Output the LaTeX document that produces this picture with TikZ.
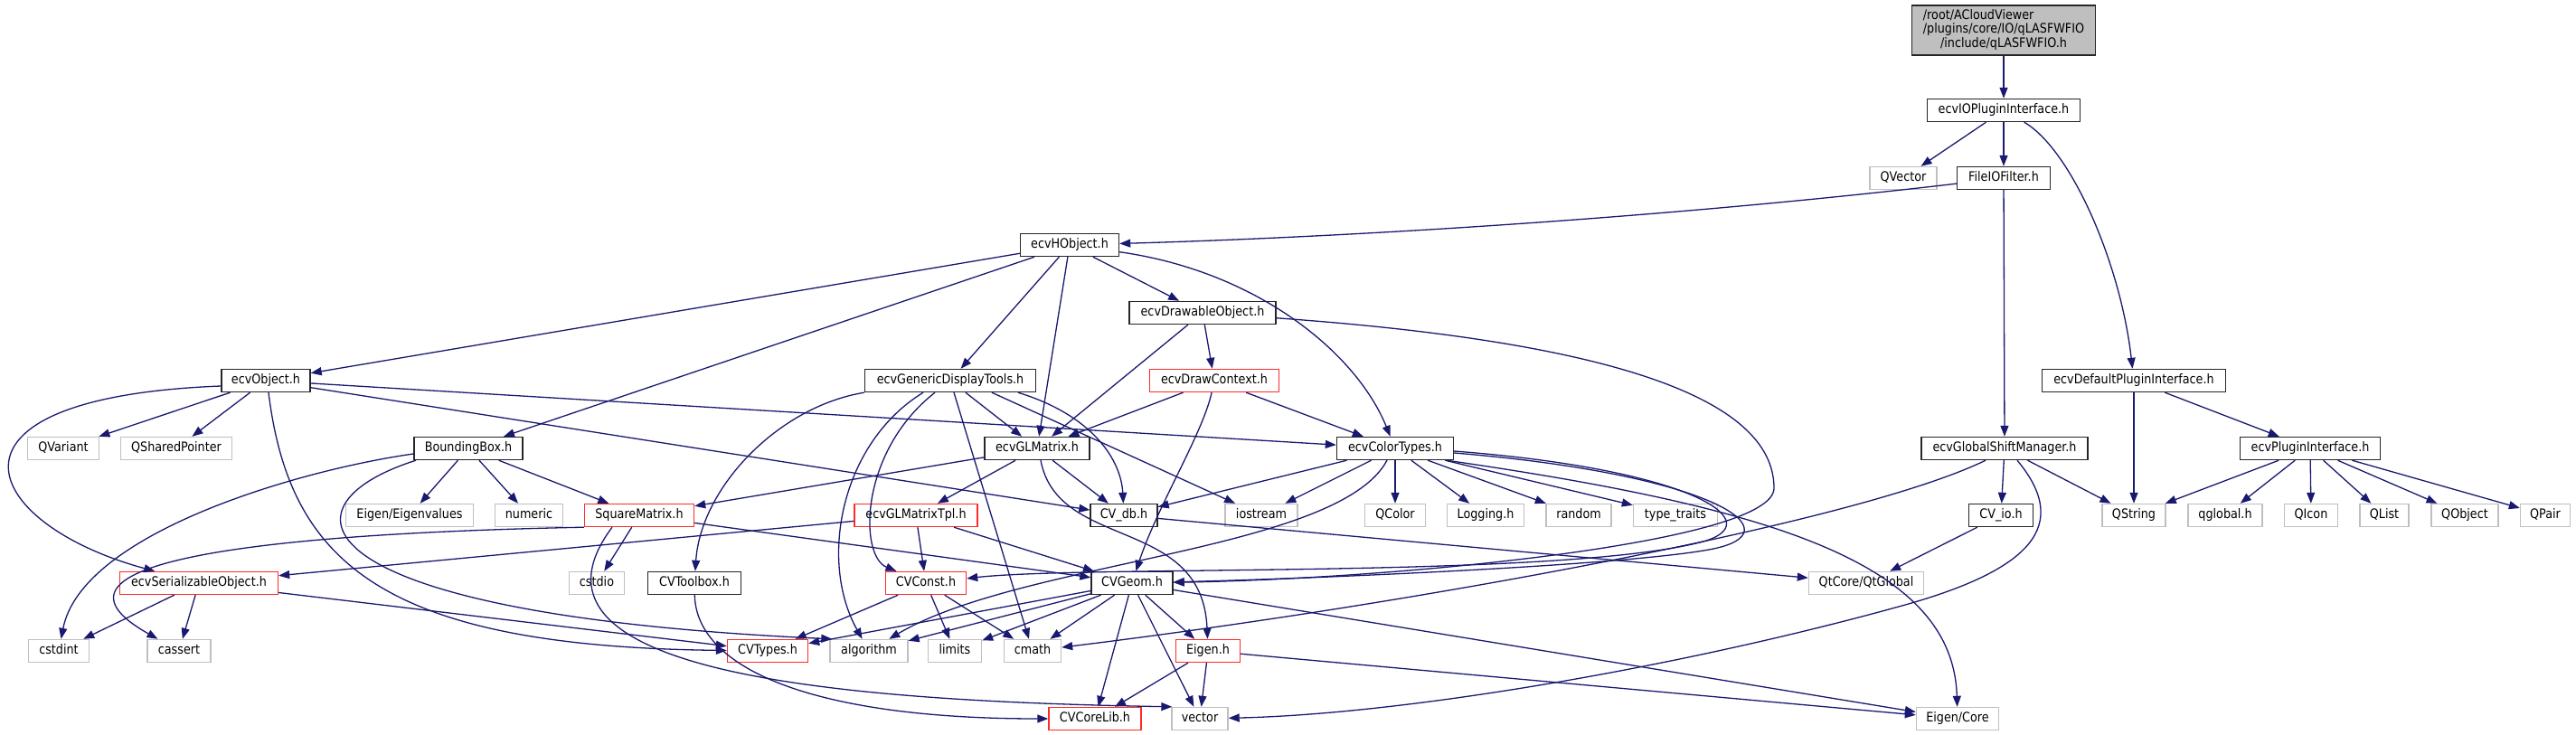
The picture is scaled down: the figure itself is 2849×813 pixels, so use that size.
\documentclass[tikz,border=0pt]{standalone}
\usepackage{fontspec}
\setmainfont{DejaVu Sans}[FakeStretch=0.88]
\usetikzlibrary{arrows.meta}
\definecolor{edgecol}{HTML}{191970}
\definecolor{redb}{HTML}{FF2A2A}
\definecolor{grayb}{HTML}{BFBFBF}
\definecolor{mainfill}{HTML}{BFBFBF}
\begin{document}
\begin{tikzpicture}[x=1pt,y=-1pt,
  nd/.style={rectangle, inner sep=0pt, minimum height=25pt, font=\fontsize{14.5}{16}\selectfont, text height=10.5pt, text depth=3pt, fill=white, line width=1.4pt},
  blk/.style={nd, draw=black!85},
  rd/.style={nd, draw=redb},
  gry/.style={nd, draw=grayb},
  mainbox/.style={rectangle, inner sep=0pt, minimum height=55pt, minimum width=203pt, font=\fontsize{14.5}{15}\selectfont, fill=mainfill, draw=black!85, line width=1.4pt},
  e/.style={draw=edgecol, line width=1.3pt, -{Triangle[length=12pt,width=9pt]}}]
\useasboundingbox (0,0) rectangle (2849,813);

% nodes
\node[mainbox] (main) at (2216,33.5) {\begin{tabular}{@{}l@{}}/root/ACloudViewer\\/plugins/core/IO/qLASFWFIO\\\multicolumn{1}{@{}c@{}}{/include/qLASFWFIO.h}\end{tabular}};
\node[blk, minimum width=169pt] (ioplug) at (2216,122) {ecvIOPluginInterface.h};
\node[gry, minimum width=74pt] (qvector) at (2105,197) {QVector};
\node[blk, minimum width=103pt] (fileio) at (2216,197) {FileIOFilter.h};
\node[blk, minimum width=109pt] (hobject) at (1183,271) {ecvHObject.h};
\node[blk, minimum width=162pt] (drawable) at (1330,346) {ecvDrawableObject.h};
\node[blk, minimum width=189pt] (gendisp) at (1051,421) {ecvGenericDisplayTools.h};
\node[rd, minimum width=143pt] (drawctx) at (1343,421) {ecvDrawContext.h};
\node[blk, minimum width=116pt] (glmatrix) at (1147,496) {ecvGLMatrix.h};
\node[blk, minimum width=129pt] (colortypes) at (1543,496) {ecvColorTypes.h};
\node[blk, minimum width=98pt] (object) at (294,421) {ecvObject.h};
\node[gry, minimum width=79pt] (qvariant) at (70,496) {QVariant};
\node[gry, minimum width=123pt] (qsharedptr) at (195,496) {QSharedPointer};
\node[blk, minimum width=120pt] (bbox) at (518,496) {BoundingBox.h};
\node[gry, minimum width=141pt] (eigenvalues) at (453,570) {Eigen/Eigenvalues};
\node[gry, minimum width=75pt] (numeric) at (585,570) {numeric};
\node[rd, minimum width=121pt] (squarematrix) at (707,570) {SquareMatrix.h};
\node[rd, minimum width=175pt] (serializable) at (220,645) {ecvSerializableObject.h};
\node[gry, minimum width=61pt] (cstdio) at (660,645) {cstdio};
\node[gry, minimum width=67pt] (cstdint) at (65,720) {cstdint};
\node[gry, minimum width=70pt] (cassert) at (198,720) {cassert};
\node[rd, minimum width=136pt] (glmatrixtpl) at (1013,570) {ecvGLMatrixTpl.h};
\node[blk, minimum width=74pt] (cvdb) at (1243,570) {CV\_db.h};
\node[gry, minimum width=80pt] (iostream) at (1395,570) {iostream};
\node[blk, minimum width=103pt] (cvtoolbox) at (768,645) {CVToolbox.h};
\node[rd, minimum width=89pt] (cvconst) at (1024,645) {CVConst.h};
\node[blk, minimum width=90pt] (cvgeom) at (1252,645) {CVGeom.h};
\node[rd, minimum width=89pt] (cvtypes) at (849,720) {CVTypes.h};
\node[gry, minimum width=86pt] (algorithm) at (961,720) {algorithm};
\node[gry, minimum width=59pt] (limits) at (1056,720) {limits};
\node[gry, minimum width=63pt] (cmath) at (1142,720) {cmath};
\node[rd, minimum width=71pt] (eigenh) at (1336,720) {Eigen.h};
\node[rd, minimum width=102pt] (cvcorelib) at (1211,795) {CVCoreLib.h};
\node[gry, minimum width=62pt] (vector) at (1327,795) {vector};
\node[gry, minimum width=67pt] (qcolor) at (1543,570) {QColor};
\node[gry, minimum width=85pt] (logging) at (1643,570) {Logging.h};
\node[gry, minimum width=72pt] (random) at (1746,570) {random};
\node[gry, minimum width=93pt] (typetraits) at (1853,570) {type\_traits};
\node[gry, minimum width=127pt] (qtglobal) at (2064,645) {QtCore/QtGlobal};
\node[blk, minimum width=184pt] (globalshift) at (2217,496) {ecvGlobalShiftManager.h};
\node[blk, minimum width=155pt] (pluginiface) at (2555,496) {ecvPluginInterface.h};
\node[blk, minimum width=71pt] (cvio) at (2213,570) {CV\_io.h};
\node[gry, minimum width=70pt] (qstring) at (2360,570) {QString};
\node[gry, minimum width=82pt] (qglobal) at (2461,570) {qglobal.h};
\node[gry, minimum width=59pt] (qicon) at (2556,570) {QIcon};
\node[gry, minimum width=54pt] (qlist) at (2637,570) {QList};
\node[gry, minimum width=74pt] (qobject) at (2726,570) {QObject};
\node[gry, minimum width=55pt] (qpair) at (2815,570) {QPair};
\node[gry, minimum width=91pt] (eigencore) at (2165,795) {Eigen/Core};
\node[blk, minimum width=203pt] (defplugin) at (2360,421) {ecvDefaultPluginInterface.h};

% edges
\draw[e] (main) -- (ioplug);
\draw[e] (ioplug) -- (qvector);
\draw[e] (ioplug) -- (fileio);
\draw[e] (ioplug) .. controls (2290,165) and (2345,290) .. (defplugin);
\draw[e] (fileio) .. controls (1850,240) and (1500,262) .. (hobject);
\draw[e] (fileio) -- (globalshift);
\draw[e] (defplugin) -- (qstring);
\draw[e] (defplugin) -- (pluginiface);
\foreach \t in {qstring,qglobal,qicon,qlist,qobject,qpair} \draw[e] (pluginiface) -- (\t);
\draw[e] (globalshift) -- (cvio);
\draw[e] (globalshift) -- (qstring);
\draw[e] ([xshift=-21pt]globalshift.south) .. controls (2050,580) and (1550,670) .. (cmath);
\draw[e] ([xshift=14pt]globalshift.south) .. controls (2290,580) and (2250,630) .. (2100,671) .. controls (1850,740) and (1550,790) .. (vector);
\draw[e] (cvio) -- (qtglobal);
\draw[e] (cvdb) -- (qtglobal);

\draw[e] (hobject) -- (object);
\draw[e] (hobject) -- (bbox);
\draw[e] (hobject) -- (gendisp);
\draw[e] (hobject) -- (glmatrix);
\draw[e] (hobject) -- (drawable);
\draw[e] (hobject) .. controls (1390,300) and (1500,390) .. (colortypes);

\draw[e] (drawable) -- (glmatrix);
\draw[e] (drawable) -- (drawctx);
\draw[e] (drawable) .. controls (1780,378) and (1962,440) .. (1962,540) .. controls (1962,600) and (1550,640) .. (cvgeom);

\draw[e] (drawctx) -- (glmatrix);
\draw[e] (drawctx) -- (colortypes);
\draw[e] (drawctx) .. controls (1330,480) and (1280,560) .. (cvgeom);

\draw[e] (gendisp) -- (glmatrix);
\draw[e] ([xshift=75pt]gendisp.south) .. controls (1210,460) and (1240,510) .. (cvdb);
\draw[e] ([xshift=46pt]gendisp.south) -- (iostream);
\draw[e] ([xshift=-30pt]gendisp.south) .. controls (930,490) and (905,620) .. (algorithm);
\draw[e] ([xshift=-17pt]gendisp.south) .. controls (950,500) and (950,615) .. (cvconst);
\draw[e] ([xshift=4pt]gendisp.south) -- (cmath);
\draw[e] (gendisp.south west) .. controls (860,450) and (775,540) .. (cvtoolbox);

\draw[e] (glmatrix) -- (squarematrix);
\draw[e] (glmatrix) -- (cvdb);
\draw[e] (glmatrix) -- (glmatrixtpl);
\draw[e] ([xshift=4pt]glmatrix.south) .. controls (1170,610) and (1330,570) .. (eigenh);

\draw[e] (glmatrixtpl) -- (cvconst);
\draw[e] (glmatrixtpl) -- (cvgeom);
\draw[e] (glmatrixtpl) -- (serializable);

\draw[e] (object) -- (qvariant);
\draw[e] (object) -- (qsharedptr);
\draw[e] ([yshift=-6pt]object.west) .. controls (-90,440) and (-20,580) .. (serializable);
\draw[e] ([xshift=3pt]object.south) .. controls (320,620) and (420,715) .. (cvtypes);
\draw[e] (object) -- (colortypes);
\draw[e] (object) -- (cvdb);

\draw[e] (bbox) -- (eigenvalues);
\draw[e] (bbox) -- (numeric);
\draw[e] (bbox) -- (squarematrix);
\draw[e] ([yshift=-6pt]bbox.west) .. controls (330,520) and (90,590) .. (cstdint);
\draw[e] ([xshift=-58pt]bbox.south) .. controls (300,560) and (330,680) .. ([xshift=3pt]algorithm.north west);

\draw[e] (squarematrix) -- (cstdio);
\draw[e] (squarematrix.south west) .. controls (300,590) and (20,620) .. (cassert);
\draw[e] ([xshift=-30pt]squarematrix.south) .. controls (560,740) and (900,775) .. ([xshift=1pt]vector.north west);
\draw[e] (squarematrix) -- (cvgeom);

\draw[e] (serializable) -- (cstdint);
\draw[e] (serializable) -- (cassert);
\draw[e] (serializable) -- (cvtypes);

\draw[e] (cvtoolbox) .. controls (770,740) and (900,795) .. (cvcorelib);

\draw[e] (cvconst) -- (cvtypes);
\draw[e] (cvconst) -- (limits);
\draw[e] (cvconst) -- (cmath);

\foreach \t in {cvtypes,algorithm,limits,cmath,eigenh,cvcorelib,vector,eigencore} \draw[e] (cvgeom) -- (\t);

\draw[e] (eigenh) -- (cvcorelib);
\draw[e] (eigenh) -- (vector);
\draw[e] (eigenh) -- (eigencore);

\draw[e] (colortypes) -- (cvdb);
\draw[e] (colortypes) -- (iostream);
\draw[e] ([xshift=-9pt]colortypes.south) .. controls (1480,610) and (1130,620) .. (algorithm);
\draw[e] (colortypes) -- (qcolor);
\draw[e] (colortypes) -- (logging);
\draw[e] (colortypes) -- (random);
\draw[e] (colortypes) -- (typetraits);
\draw[e] ([xshift=57pt]colortypes.south) .. controls (1950,560) and (2160,620) .. (eigencore);
\draw[e] ([yshift=-3pt]colortypes.east) .. controls (1880,520) and (1960,580) .. (1880,600) .. controls (1720,640) and (1200,625) .. (cvconst);
\draw[e] ([yshift=-5pt]colortypes.east) .. controls (1900,525) and (1990,590) .. (1890,608) .. controls (1790,626) and (1450,640) .. (cvgeom);
\end{tikzpicture}
\end{document}
